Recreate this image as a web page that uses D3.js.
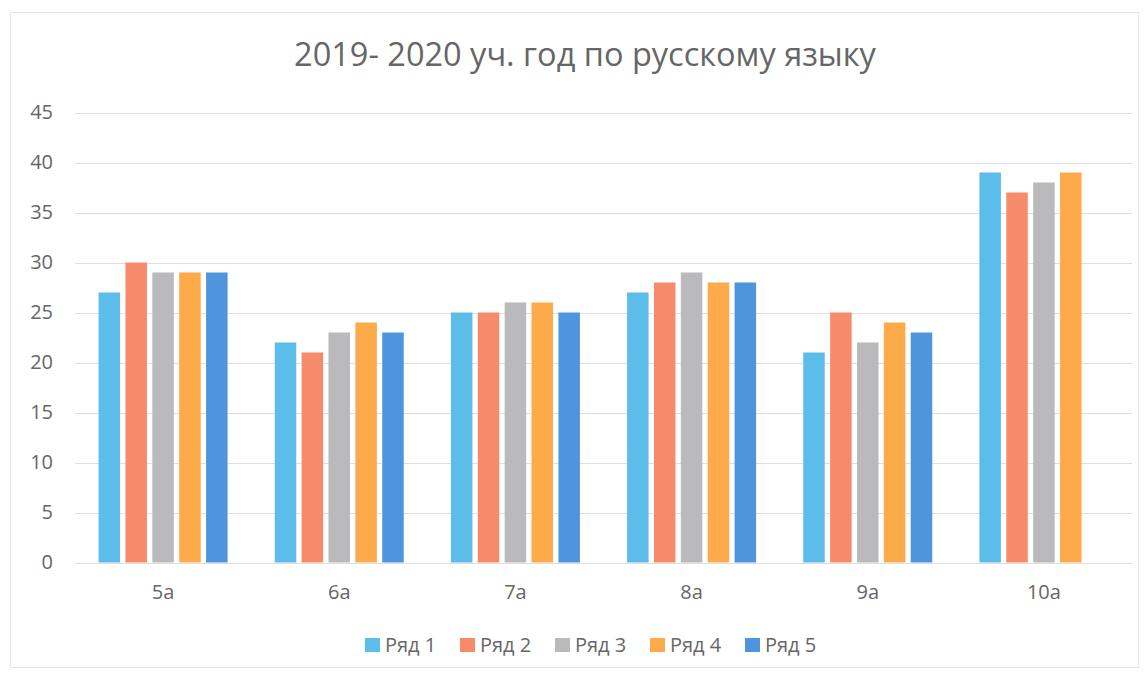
<!DOCTYPE html>
<html>
<head>
<meta charset="utf-8">
<script src="https://cdn.jsdelivr.net/npm/d3@7"></script>
<style>
  body { margin: 0; background: #fff; }
  text { font-family: "Open Sans", "Noto Sans", sans-serif; fill: #666; }
</style>
</head>
<body>
<div id="grafik"></div>
<script>
// Veriler
const siniflar = ["5a", "6a", "7a", "8a", "9a", "10a"];
const seriler = ["Ряд 1", "Ряд 2", "Ряд 3", "Ряд 4", "Ряд 5"];
const ryad1 = [27, 22, 25, 27, 21, 39];
const ryad2 = [30, 21, 25, 28, 25, 37];
const ryad3 = [29, 23, 26, 29, 22, 38];
const ryad4 = [29, 24, 26, 28, 24, 39];
const ryad5 = [29, 23, 25, 28, 23, null];
const yTikler = [0, 5, 10, 15, 20, 25, 30, 35, 40, 45];
const renkler = ["#5cbdea", "#f78a6b", "#bababc", "#fdab4a", "#4f95dd"];

const degerler = [ryad1, ryad2, ryad3, ryad4, ryad5];

const genislik = 1147, yukseklik = 676;
const kenar = { sol: 75, sag: 15, ust: 112.5, alt: 113.5 };

const svg = d3.select("#grafik")
  .append("svg")
  .attr("width", genislik)
  .attr("height", yukseklik);

// cerceve
svg.append("rect")
  .attr("x", 10.5).attr("y", 12.5)
  .attr("width", 1128).attr("height", 655)
  .attr("fill", "none")
  .attr("stroke", "#e4e4e4");

const x = d3.scaleBand()
  .domain(siniflar)
  .range([kenar.sol, genislik - kenar.sag])
  .paddingInner(0)
  .paddingOuter(0);

const xIc = d3.scaleBand()
  .domain(seriler)
  .range([x.bandwidth() / 2 - 64.5, x.bandwidth() / 2 + 64.5])
  .paddingInner(0.2);

const y = d3.scaleLinear()
  .domain([0, 45])
  .range([yukseklik - kenar.alt, kenar.ust]);

// Baslik
svg.append("text")
  .attr("x", 585)
  .attr("y", 66)
  .attr("text-anchor", "middle")
  .style("font-size", "32.5px")
  .text("2019- 2020 уч. год по русскому языку");

// Izgara
svg.append("g")
  .selectAll("line")
  .data(yTikler)
  .enter()
  .append("line")
  .attr("x1", kenar.sol)
  .attr("x2", genislik - kenar.sag)
  .attr("y1", d => Math.round(y(d)) + 0.5)
  .attr("y2", d => Math.round(y(d)) + 0.5)
  .attr("stroke", "#dcdfe3")
  .attr("stroke-width", 1);

// Y ekseni
const yEkseni = svg.append("g")
  .attr("transform", `translate(${kenar.sol - 22},0)`)
  .call(d3.axisLeft(y).tickValues(yTikler).tickSize(0).tickPadding(0));
yEkseni.select(".domain").remove();
yEkseni.selectAll("text")
  .style("font-size", "20px")
  .style("fill", "#666");

// X ekseni
const xEkseni = svg.append("g")
  .attr("transform", `translate(0,${y(0) + 22})`)
  .call(d3.axisBottom(x).tickSize(0).tickPadding(0));
xEkseni.select(".domain").remove();
xEkseni.selectAll("text")
  .style("font-size", "20px")
  .style("fill", "#666");

// Cubuklar
const gruplar = svg.append("g")
  .selectAll("g")
  .data(siniflar)
  .enter()
  .append("g")
  .attr("transform", d => `translate(${x(d)},0)`);

gruplar.selectAll("rect")
  .data((d, i) => seriler.map((s, j) => ({ seri: s, deger: degerler[j][i], renk: renkler[j] })).filter(d => d.deger != null))
  .enter()
  .append("rect")
  .attr("x", d => xIc(d.seri))
  .attr("width", xIc.bandwidth())
  .attr("y", d => y(d.deger))
  .attr("height", d => y(0) - y(d.deger))
  .attr("fill", d => d.renk);

// Lejant
const lejant = svg.append("g")
  .selectAll("g")
  .data(seriler)
  .enter()
  .append("g")
  .attr("transform", (d, i) => `translate(${365 + i * 95},645)`);

lejant.append("rect")
  .attr("x", 0).attr("y", -7)
  .attr("width", 15).attr("height", 14)
  .attr("fill", (d, i) => renkler[i]);

lejant.append("text")
  .attr("x", 20)
  .attr("y", 0)
  .attr("dy", "0.35em")
  .style("font-size", "20px")
  .text(d => d);
</script>
</body>
</html>
